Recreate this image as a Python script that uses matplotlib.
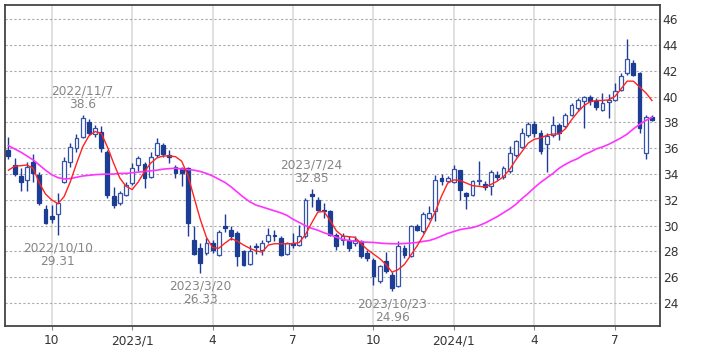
import matplotlib
matplotlib.use('Agg')
import matplotlib.pyplot as plt
import numpy as np
import pandas as pd

# ---------------- data ----------------
week_start = '2022-08-15'
n_weeks = 105

opens = [35.86, 34.7, 33.88, 33.55, 34.96, 33.93, 31.3, 30.72, 30.9, 33.42,
         34.96, 36.0, 36.9, 38.05, 37.07, 37.28, 35.73, 32.32, 31.75, 32.4,
         33.3, 34.7, 34.76, 33.8, 35.49, 36.26, 35.49, 34.58, 34.46, 34.46,
         28.9, 28.27, 27.89, 28.66, 27.76, 29.95, 29.7, 29.43, 28.07, 27.03,
         28.45, 28.14, 28.84, 29.3, 29.05, 27.8, 28.66, 28.53, 29.18, 32.45,
         32.0, 31.24, 31.1, 29.3, 28.92, 28.92, 28.66, 28.84, 27.9, 27.37,
         25.7, 27.24, 26.2, 25.3, 28.27, 27.63, 30.0, 29.56, 30.6, 31.1,
         33.7, 33.44, 33.36, 34.28, 32.5, 32.4, 33.43, 33.2, 33.05, 33.95,
         33.77, 34.2, 35.5, 36.1, 37.05, 37.9, 37.17, 36.32, 37.06, 37.78,
         37.7, 38.6, 39.1, 39.63, 39.96, 39.63, 39.0, 39.6, 39.76, 40.53,
         41.81, 42.64, 41.8, 35.6, 38.42]

highs = [36.9, 35.22, 34.45, 34.96, 35.53, 34.19, 31.6, 31.6, 32.52, 35.35,
         36.38, 37.07, 38.6, 38.3, 37.8, 37.74, 35.86, 33.0, 32.65, 33.42,
         34.84, 35.43, 34.97, 35.74, 36.77, 36.39, 35.87, 34.7, 34.58, 34.58,
         29.94, 28.66, 29.05, 28.92, 29.7, 30.9, 29.95, 29.56, 28.14, 28.53,
         28.66, 28.92, 29.82, 29.7, 29.18, 28.74, 29.43, 30.08, 32.14, 32.85,
         32.19, 31.75, 31.24, 29.43, 29.43, 29.18, 29.18, 28.92, 28.14, 27.5,
         26.98, 27.96, 26.4, 28.79, 28.53, 30.03, 30.1, 31.06, 31.5, 33.95,
         34.0, 33.82, 34.72, 34.34, 32.6, 33.56, 35.05, 33.43, 34.28, 34.2,
         34.65, 36.14, 36.66, 37.56, 38.0, 38.13, 37.43, 37.17, 38.47, 37.96,
         38.73, 39.5, 39.89, 40.07, 40.14, 39.89, 40.27, 40.2, 41.04, 41.81,
         44.44, 42.8, 41.94, 38.6, 38.6]

lows = [35.2, 33.88, 32.65, 32.65, 33.42, 31.6, 30.12, 30.2, 29.31, 33.3,
        34.58, 35.73, 36.76, 37.0, 36.9, 35.73, 32.13, 31.37, 31.62, 32.27,
        33.17, 34.2, 32.9, 33.68, 35.35, 35.36, 34.84, 33.68, 33.04, 29.18,
        27.73, 26.33, 27.76, 27.89, 27.63, 29.5, 28.92, 26.85, 26.85, 26.98,
        27.8, 27.76, 28.66, 28.8, 27.63, 27.75, 28.27, 28.4, 29.05, 31.42,
        31.1, 30.6, 29.2, 28.14, 28.53, 28.0, 28.4, 27.5, 27.24, 25.43,
        25.56, 26.34, 24.96, 25.23, 27.5, 27.55, 29.56, 29.43, 30.47, 30.34,
        33.17, 33.36, 33.3, 32.0, 31.27, 32.3, 33.17, 32.8, 32.4, 33.56,
        33.6, 34.08, 35.3, 36.0, 36.9, 36.9, 35.56, 34.13, 36.9, 36.67,
        37.57, 38.47, 38.99, 37.57, 39.37, 38.99, 38.86, 38.35, 39.63, 40.4,
        41.69, 41.56, 37.19, 35.15, 38.1]

closes = [35.43, 33.98, 33.42, 34.58, 34.06, 31.75, 30.2, 30.54, 31.75, 35.01,
          36.12, 36.76, 38.36, 37.15, 37.59, 36.0, 32.34, 31.62, 32.52, 33.17,
          34.46, 35.28, 33.68, 35.35, 36.38, 35.54, 35.3, 34.07, 34.07, 30.2,
          27.8, 27.12, 28.66, 28.15, 29.51, 29.85, 29.18, 27.63, 26.98, 28.07,
          28.35, 28.66, 29.3, 29.2, 27.7, 28.66, 28.53, 29.18, 32.02, 32.27,
          31.24, 31.1, 29.3, 28.4, 29.18, 28.27, 28.92, 27.63, 27.5, 26.08,
          26.85, 26.47, 25.18, 28.4, 27.7, 29.95, 29.7, 30.9, 30.98, 33.56,
          33.43, 33.7, 34.39, 32.79, 32.3, 33.43, 33.56, 33.0, 34.13, 33.77,
          34.47, 35.63, 36.53, 37.17, 37.87, 37.17, 35.76, 36.97, 37.83, 37.19,
          38.6, 39.37, 39.76, 40.0, 39.7, 39.19, 39.5, 39.75, 40.4, 41.56,
          42.9, 41.69, 37.57, 38.4, 38.16]

ma_short = [34.3, 34.6, 34.65, 34.7, 34.45, 33.3, 32.45, 32.0, 31.7, 32.25,
            33.4, 34.8, 36.1, 36.95, 37.3, 37.15, 36.1, 34.85, 33.7, 33.05,
            32.8, 33.4, 34.2, 34.85, 35.25, 35.4, 35.4, 35.35, 35.0, 33.9,
            32.2, 30.5, 29.1, 28.3, 28.25, 28.65, 29.0, 28.8, 28.5, 28.25,
            28.05, 27.95, 28.5, 28.6, 28.6, 28.6, 28.6, 28.7, 29.3, 30.2,
            31.05, 31.1, 30.4, 29.6, 29.2, 29.15, 29.1, 28.6, 28.15, 27.8,
            27.45, 27.0, 26.4, 26.6, 27.0, 27.7, 28.4, 29.2, 30.1, 31.1,
            32.3, 33.3, 33.55, 33.5, 33.3, 33.1, 33.05, 33.0, 33.2, 33.45,
            33.8, 34.35, 35.1, 35.75, 36.4, 36.7, 36.8, 37.0, 37.1, 37.1,
            37.5, 38.2, 38.8, 39.3, 39.6, 39.7, 39.7, 39.75, 40.0, 40.6,
            41.2, 41.2, 40.75, 40.3, 39.7]

ma_long = [36.2, 35.95, 35.7, 35.4, 35.1, 34.7, 34.3, 33.95, 33.72, 33.62,
           33.65, 33.75, 33.85, 33.9, 33.95, 33.98, 34.0, 34.0, 34.05, 34.05,
           34.1, 34.15, 34.2, 34.25, 34.3, 34.38, 34.42, 34.45, 34.4, 34.35,
           34.3, 34.2, 34.05, 33.85, 33.6, 33.35, 33.0, 32.6, 32.2, 31.85,
           31.6, 31.45, 31.3, 31.15, 31.0, 30.8, 30.5, 30.25, 30.0, 29.8,
           29.65, 29.45, 29.3, 29.1, 28.95, 28.85, 28.8, 28.75, 28.72, 28.7,
           28.65, 28.62, 28.6, 28.6, 28.62, 28.65, 28.7, 28.78, 28.85, 29.0,
           29.2, 29.4, 29.55, 29.7, 29.78, 29.85, 30.0, 30.2, 30.45, 30.7,
           31.0, 31.3, 31.65, 32.1, 32.5, 32.95, 33.35, 33.7, 34.05, 34.45,
           34.75, 35.0, 35.2, 35.5, 35.7, 35.95, 36.1, 36.3, 36.55, 36.8,
           37.1, 37.5, 37.85, 38.15, 38.4]

tick_months = ['2022-10', '2023-01', '2023-04', '2023-07',
               '2023-10', '2024-01', '2024-04', '2024-07']
tick_labels = ['10', '2023/1', '4', '7', '10', '2024/1', '4', '7']
y_ticks = [24, 26, 28, 30, 32, 34, 36, 38, 40, 42, 44, 46]

ann_dates = ['2022-11-07', '2022-10-10', '2023-03-20', '2023-07-24', '2023-10-23']
ann_values = [38.6, 29.31, 26.33, 32.85, 24.96]
ann_labels = ['2022/11/7', '2022/10/10', '2023/3/20', '2023/7/24', '2023/10/23']
ann_side = ['high', 'low', 'low', 'high', 'low']

# ---------------- plot ----------------
plt.rcParams['font.family'] = ['DejaVu Sans']
dates = pd.date_range(week_start, periods=n_weeks, freq='7D')
x = np.arange(n_weeks)
o = np.array(opens); h = np.array(highs); l = np.array(lows); c = np.array(closes)

fig = plt.figure(figsize=(7.09, 3.54), dpi=100)
ax = fig.add_axes([5 / 709, 1 - 325.7 / 354, 655 / 709, 320.7 / 354])

navy = '#1d3d94'
edge_up = '#3553a8'
up = c >= o

# grid
ax.set_axisbelow(True)
ax.yaxis.grid(True, color='#aaaaaa', linestyle=(0, (2, 2)), linewidth=0.8)
ax.xaxis.grid(True, color='#dddddd', linestyle='-', linewidth=1.3)

# wicks
ax.vlines(x, l, h, color=navy, linewidth=1.0, zorder=2)
# bodies
w = 0.62
body_bottom = np.minimum(o, c)
body_h = np.abs(c - o)
ax.bar(x[up], body_h[up], bottom=body_bottom[up], width=w,
       facecolor='white', edgecolor=edge_up, linewidth=0.9, zorder=3)
ax.bar(x[~up], body_h[~up], bottom=body_bottom[~up], width=w,
       facecolor=navy, edgecolor=navy, linewidth=0.9, zorder=3)

# moving averages
ax.plot(x, ma_long, color='#ff33ff', linewidth=1.2, zorder=4)
ax.plot(x, ma_short, color='#ff2222', linewidth=1.0, zorder=4)

# annotations
for d, v, lab, side in zip(ann_dates, ann_values, ann_labels, ann_side):
    idx = int(np.where(dates == pd.Timestamp(d))[0][0])
    if side == 'high':
        ax.annotate(f'{lab}\n{v}', xy=(idx, v), xytext=(0, 3),
                    textcoords='offset points', ha='center', va='bottom',
                    fontsize=8.7, color='#858585', linespacing=1.05, zorder=5)
    else:
        ax.annotate(f'{lab}\n{v}', xy=(idx, v), xytext=(0, -5),
                    textcoords='offset points', ha='center', va='top',
                    fontsize=8.7, color='#858585', linespacing=1.05, zorder=5)

# axes
ax.set_xlim(-0.55, 105.3)
ax.set_ylim(22.25, 47.1)
tick_pos = []
for m in tick_months:
    per = pd.Period(m, freq='M')
    tick_pos.append(int(np.where(dates.to_period('M') == per)[0][0]))
ax.set_xticks(tick_pos)
ax.set_xticklabels(tick_labels)
ax.set_yticks(y_ticks)
ax.yaxis.tick_right()
ax.tick_params(axis='y', length=0, pad=2, labelsize=8.7, labelcolor='#333333')
ax.tick_params(axis='x', length=3, color='#888888', pad=3, labelsize=8.7,
               labelcolor='#333333')
for s in ax.spines.values():
    s.set_color('#444444')
    s.set_linewidth(1.3)

fig.savefig('out.png', dpi=100)
